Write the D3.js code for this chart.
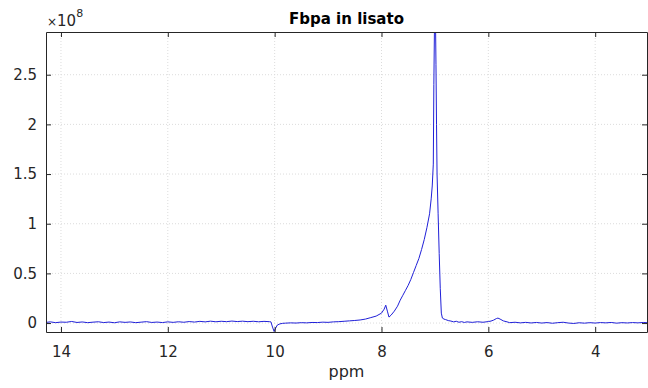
<!doctype html>
<html>
  <head>
    <script src="https://d3js.org/d3.v7.min.js"></script>
    <style>
      body { margin: 0; background: #fff; }
      text { font-family: "DejaVu Sans", sans-serif; fill: #262626; }
    </style>
  </head>
  <body>
    <div id="chart"></div>
    <script>
      // spectrum: chemical shift (ppm) and intensity (x 1e8)
      var ppm = [14.3, 14.2, 14.1, 14.0, 13.9, 13.8, 13.7, 13.6, 13.5, 13.4, 13.3, 13.2, 13.1, 13.0,
        12.9, 12.8, 12.7, 12.6, 12.5, 12.4, 12.3, 12.2, 12.1, 12.0, 11.9, 11.8, 11.7, 11.6, 11.5,
        11.4, 11.3, 11.2, 11.1, 11.0, 10.9, 10.8, 10.7, 10.6, 10.5, 10.4, 10.3, 10.2, 10.1,
        10.07, 10.04, 10.01, 9.98, 9.95, 9.9, 9.85, 9.8, 9.7, 9.6, 9.5, 9.4, 9.3, 9.2, 9.1, 9.0,
        8.9, 8.8, 8.7, 8.6, 8.5, 8.4, 8.3, 8.2, 8.1, 8.0, 7.95, 7.92, 7.89, 7.86, 7.82, 7.76, 7.7,
        7.65, 7.6, 7.55, 7.5, 7.45, 7.4, 7.35, 7.3, 7.25, 7.2, 7.15, 7.1, 7.07, 7.05, 7.03, 7.02,
        7.01, 7.0, 6.99, 6.98, 6.97, 6.96, 6.94, 6.92, 6.9, 6.88, 6.86, 6.83, 6.8, 6.75, 6.7,
        6.65, 6.6, 6.55, 6.5, 6.45, 6.4, 6.3, 6.2, 6.1, 6.0, 5.95, 5.9, 5.85, 5.82, 5.78, 5.72,
        5.65, 5.6, 5.5, 5.4, 5.3, 5.2, 5.1, 5.0, 4.9, 4.8, 4.7, 4.6, 4.5, 4.4, 4.3, 4.2, 4.1,
        4.0, 3.9, 3.8, 3.7, 3.6, 3.5, 3.4, 3.3, 3.2, 3.1, 3.0];
      var intensity = [0.005, 0.012, 0.004, 0.010, 0.008, 0.016, 0.006, 0.011, 0.004, 0.009, 0.013, 0.005, 0.010, 0.003,
        0.012, 0.007, 0.011, 0.004, 0.009, 0.014, 0.006, 0.010, 0.005, 0.012, 0.007, 0.013, 0.008, 0.015, 0.010,
        0.017, 0.012, 0.019, 0.013, 0.018, 0.014, 0.020, 0.015, 0.019, 0.014, 0.018, 0.013, 0.017, 0.014,
        0.012, -0.04, -0.085, -0.05, -0.02, -0.008, -0.003, -0.001, 0.002, 0.000, 0.004, 0.002, 0.006, 0.005, 0.009, 0.007,
        0.012, 0.014, 0.018, 0.022, 0.026, 0.031, 0.040, 0.055, 0.07, 0.10, 0.14, 0.18, 0.12, 0.06, 0.08, 0.12, 0.17,
        0.23, 0.28, 0.33, 0.38, 0.44, 0.51, 0.58, 0.65, 0.74, 0.84, 0.96, 1.10, 1.25, 1.38, 1.6, 2.4,
        2.9, 3.2, 3.1, 2.6, 2.0, 1.5, 1.1, 0.7, 0.35, 0.1, 0.05, 0.04, 0.035, 0.025, 0.02,
        0.012, 0.018, 0.008, 0.014, 0.006, 0.012, 0.007, 0.013, 0.008, 0.015, 0.02, 0.03, 0.045, 0.05, 0.04, 0.022,
        0.012, 0.004, 0.008, 0.002, 0.007, 0.001, 0.006, 0.000, 0.005, -0.002, 0.004, 0.008, 0.000, -0.004, 0.003, -0.001, 0.004,
        0.000, 0.005, 0.002, 0.006, -0.001, 0.004, 0.001, 0.005, 0.002, 0.006, 0.003];

      var xTicks = [14, 12, 10, 8, 6, 4];
      var yTicks = [0, 0.5, 1, 1.5, 2, 2.5];
      var yTickLabels = ["0", "0.5", "1", "1.5", "2", "2.5"];

      var width = 648, height = 388;
      var margin = {top: 32, right: 1, bottom: 56, left: 46};
      var w = width - margin.left - margin.right;
      var h = height - margin.top - margin.bottom;

      var svg = d3.select("#chart").append("svg")
        .attr("width", width)
        .attr("height", height);

      var x = d3.scaleLinear().domain([14.28, 3.03]).range([0, w]);
      var y = d3.scaleLinear().domain([-0.09, 2.93]).range([h, 0]);

      var g = svg.append("g")
        .attr("transform", "translate(" + margin.left + "," + margin.top + ")");

      // dotted grid
      g.selectAll(".vgrid").data(xTicks).enter().append("line")
        .attr("x1", d => x(d)).attr("x2", d => x(d))
        .attr("y1", 0).attr("y2", h)
        .attr("stroke", "#dcdcdc").attr("stroke-dasharray", "1,2");
      g.selectAll(".hgrid").data(yTicks).enter().append("line")
        .attr("x1", 0).attr("x2", w)
        .attr("y1", d => y(d)).attr("y2", d => y(d))
        .attr("stroke", "#dcdcdc").attr("stroke-dasharray", "1,2");

      // spectrum, clipped to the axes box
      g.append("clipPath").attr("id", "clip")
        .append("rect").attr("width", w).attr("height", h);

      var line = d3.line()
        .x((d, i) => x(ppm[i]))
        .y(d => y(d));

      g.append("path")
        .datum(intensity)
        .attr("clip-path", "url(#clip)")
        .attr("fill", "none")
        .attr("stroke", "#2020d8")
        .attr("stroke-width", 1)
        .attr("d", line);

      // axes, ticks inward on all four sides
      var axBottom = g.append("g").attr("transform", "translate(0," + h + ")")
        .call(d3.axisBottom(x).tickValues(xTicks).tickSizeInner(-5).tickSizeOuter(0).tickPadding(14));
      var axTop = g.append("g")
        .call(d3.axisTop(x).tickValues(xTicks).tickSizeInner(-5).tickSizeOuter(0).tickFormat(""));
      var axLeft = g.append("g")
        .call(d3.axisLeft(y).tickValues(yTicks).tickSizeInner(-5).tickSizeOuter(0).tickPadding(9)
          .tickFormat((d, i) => yTickLabels[i]));
      var axRight = g.append("g").attr("transform", "translate(" + w + ",0)")
        .call(d3.axisRight(y).tickValues(yTicks).tickSizeInner(-5).tickSizeOuter(0).tickFormat(""));

      [axBottom, axTop, axLeft, axRight].forEach(function(a) {
        a.select(".domain").attr("stroke", "#262626");
        a.selectAll(".tick line").attr("stroke", "#262626");
        a.selectAll("text").attr("font-size", 15).attr("fill", "#262626")
          .style("font-family", "DejaVu Sans");
      });

      // title, axis label, exponent
      svg.append("text")
        .attr("x", margin.left + w / 2).attr("y", 24)
        .attr("text-anchor", "middle")
        .attr("font-size", 15).attr("font-weight", "bold")
        .style("fill", "#000")
        .text("Fbpa in lisato");

      svg.append("text")
        .attr("x", margin.left + w / 2).attr("y", 377)
        .attr("text-anchor", "middle")
        .attr("font-size", 16)
        .text("ppm");

      var expo = svg.append("text").attr("x", 47).attr("y", 26).attr("font-size", 15);
      expo.append("tspan").attr("font-size", 12).text("\u00d7");
      expo.append("tspan").text("10");
      expo.append("tspan").attr("font-size", 11).attr("dy", -9).text("8");
    </script>
  </body>
</html>
